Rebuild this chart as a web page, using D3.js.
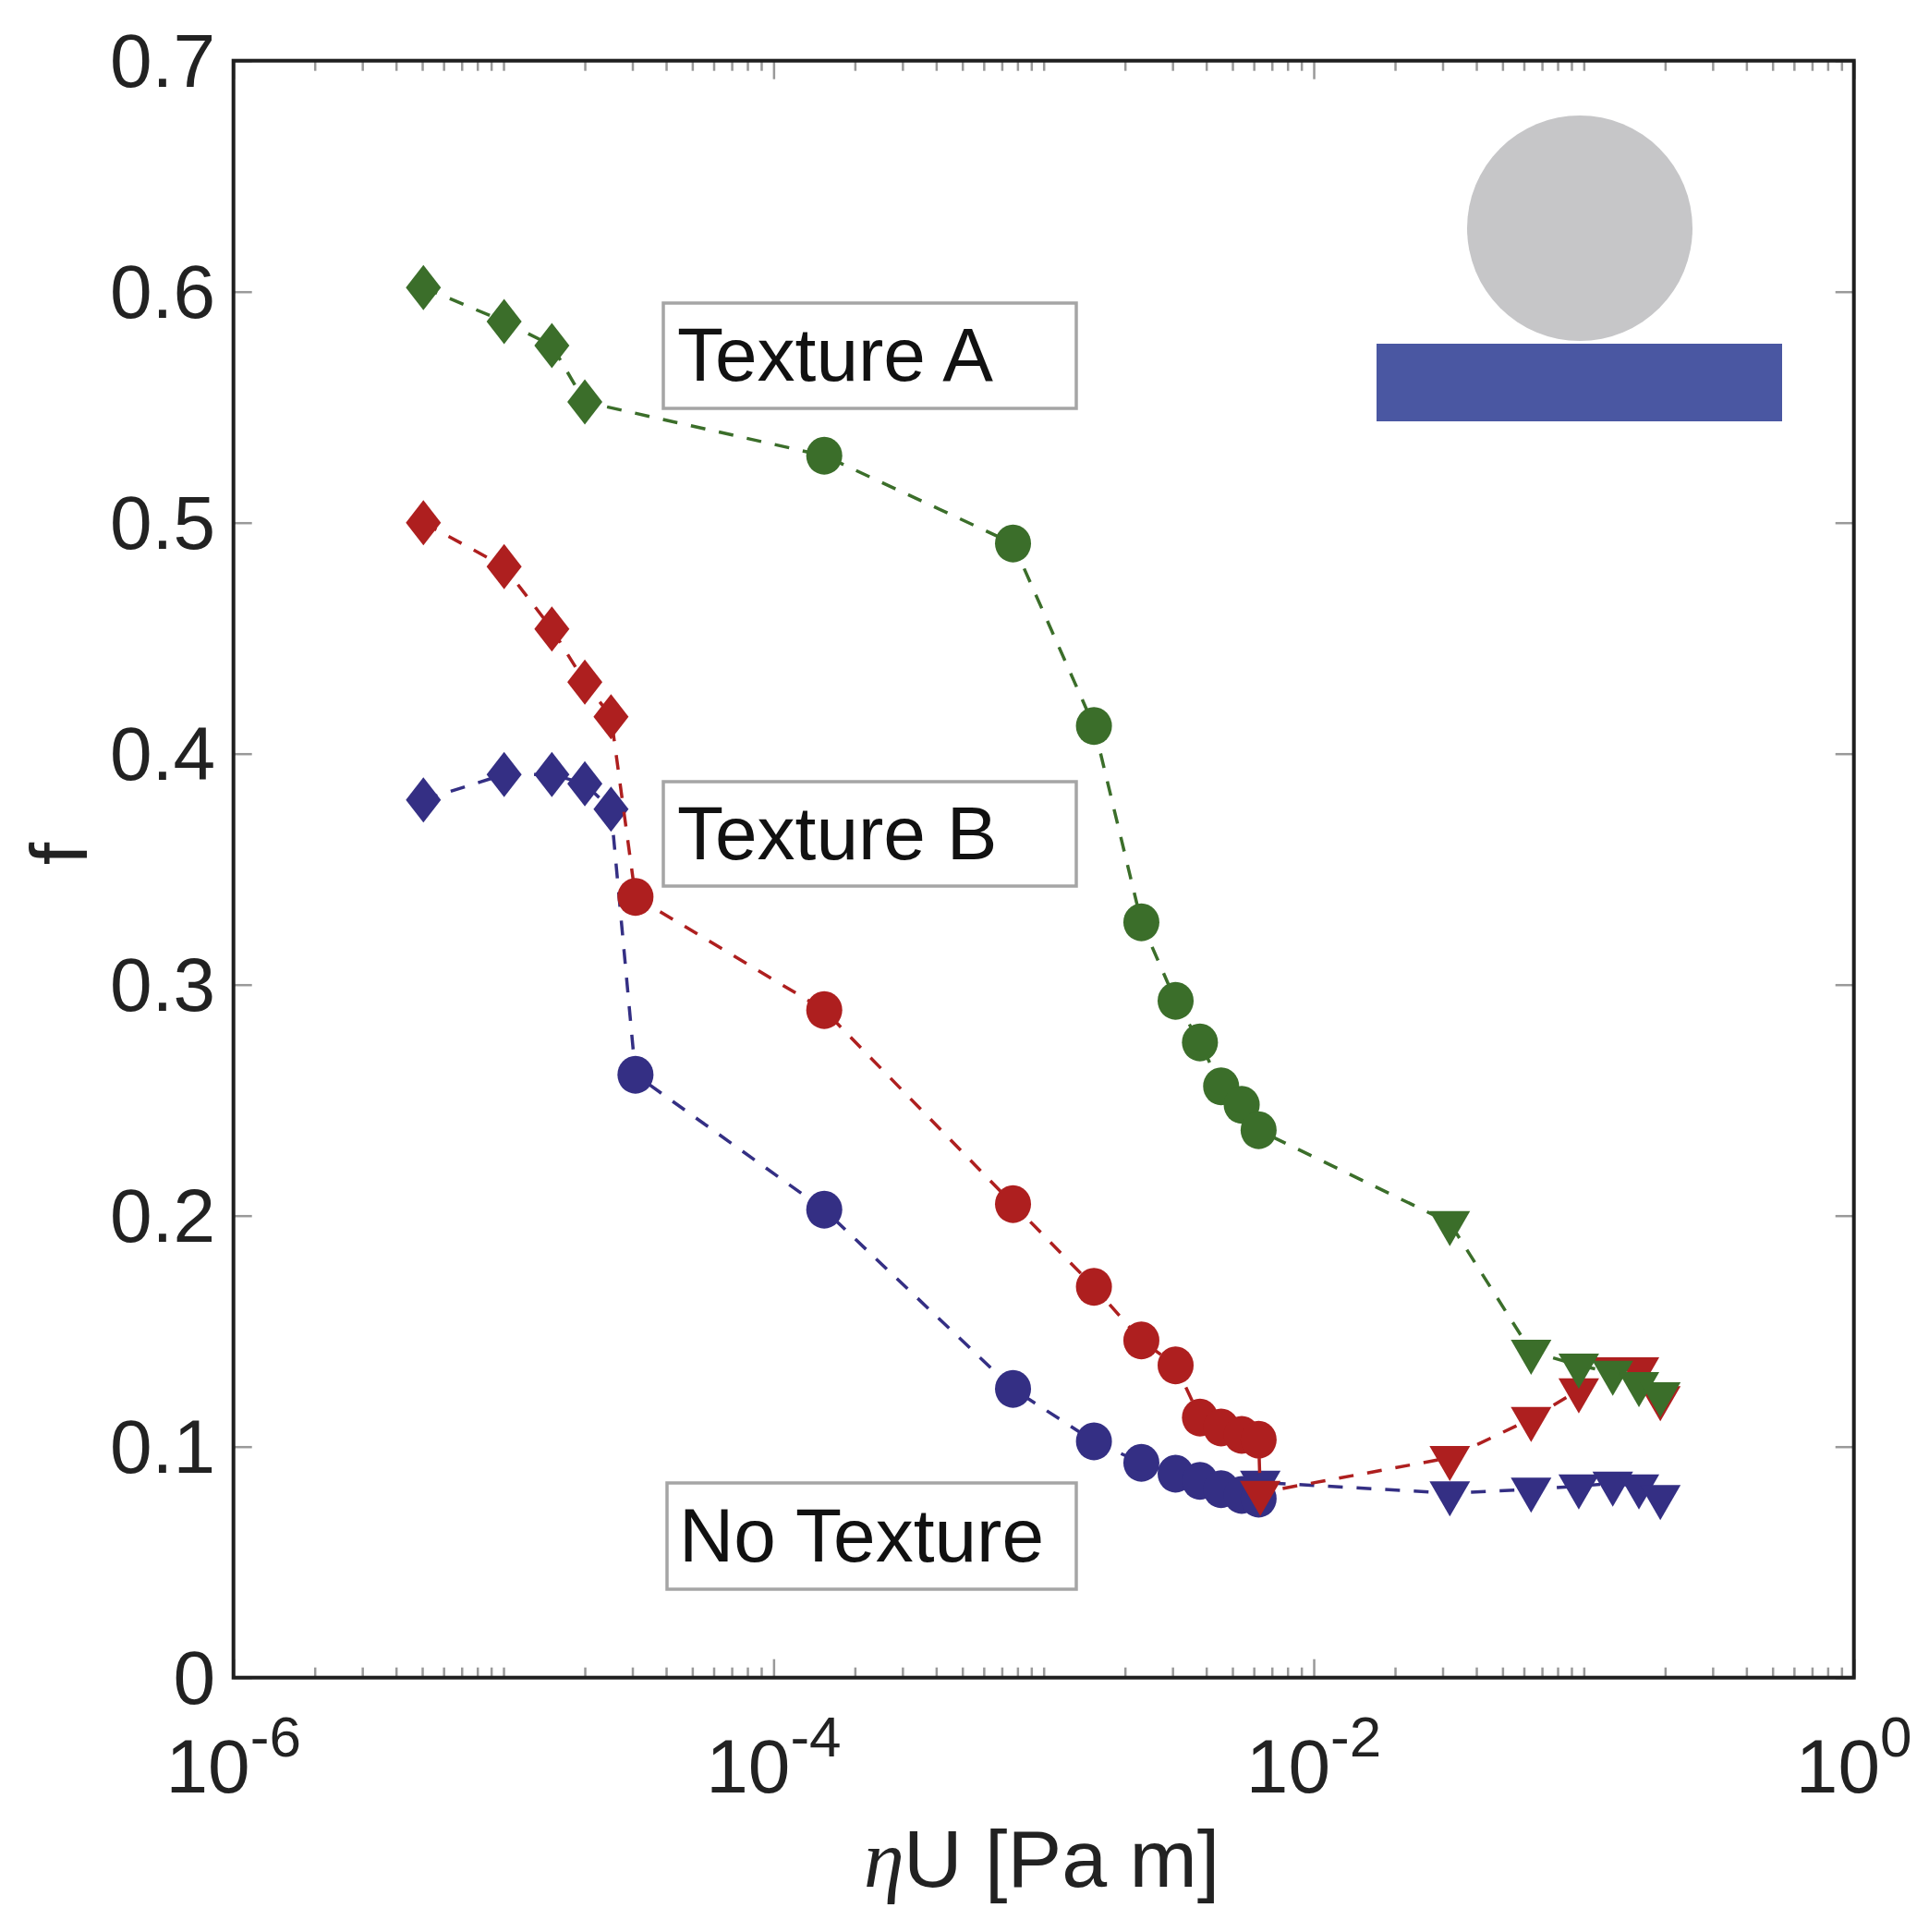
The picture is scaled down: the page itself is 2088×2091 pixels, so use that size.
<!DOCTYPE html>
<html>
<head>
<meta charset="utf-8">
<style>
  body { margin: 0; background: #fff; }
  svg { display: block; filter: blur(0.7px); }
  text { font-family: "Liberation Sans", sans-serif; fill: #222; }
</style>
<script src="https://d3js.org/d3.v7.min.js"></script>
</head>
<body>
<div id="chart"></div>
<script type="text/javascript">
// values
var xDiamond = [5.05e-6, 1.005e-5, 1.51e-5, 2e-5, 2.5e-5];
var xCircle = [3.08e-5, 1.54e-4, 7.7e-4, 1.535e-3, 2.3e-3, 3.08e-3, 3.79e-3, 4.54e-3, 5.41e-3, 6.25e-3];
var xTriangle = [6.34e-3, 3.19e-2, 6.38e-2, 9.58e-2, 0.128, 0.16, 0.192];

var blueDiamond = [0.380, 0.391, 0.391, 0.387, 0.376];
var blueCircle = [0.261, 0.2026, 0.125, 0.1023, 0.093, 0.0883, 0.0852, 0.0816, 0.0791, 0.0775];
var blueTriangle = [0.0845, 0.0799, 0.0815, 0.0829, 0.0841, 0.0829, 0.0783];

var redDiamond = [0.500, 0.481, 0.454, 0.431, 0.416];
var redCircle = [0.338, 0.289, 0.205, 0.1692, 0.146, 0.1352, 0.1126, 0.1083, 0.1051, 0.103];
var redTriangle = [0.0801, 0.0952, 0.1121, 0.1245, 0.1336, 0.1336, 0.1211];

var greenDiamond = [0.6018, 0.5871, 0.5767, 0.5523];
var greenCircle = [null, 0.529, 0.491, 0.412, 0.327, 0.293, 0.275, 0.256, 0.248, 0.237];
var greenTriangle = [null, 0.1969, 0.1412, 0.1352, 0.1321, 0.1272, 0.1228];

var yTickValues = [0, 0.1, 0.2, 0.3, 0.4, 0.5, 0.6, 0.7];
var yTickLabels = ["0", "0.1", "0.2", "0.3", "0.4", "0.5", "0.6", "0.7"];
var xDecades = [1e-6, 1e-4, 1e-2, 1];
var xExponents = ["-6", "-4", "-2", "0"];

var labelNames = ["Texture A", "Texture B", "No Texture"];

var w = 2088, h = 2091;
var left = 252.7, right = 2006.7, top_ = 65.7, bottom = 1815.7;

var x = d3.scaleLog().domain([1e-6, 1]).range([left, right]);
var y = d3.scaleLinear().domain([0, 0.7]).range([bottom, top_]);

var svg = d3.select("#chart").append("svg")
  .attr("width", w)
  .attr("height", h);

// inset sketch: ball on a flat plate
svg.append("circle").attr("cx", 1710).attr("cy", 247).attr("r", 122).attr("fill", "#c6c6c8");
svg.append("rect").attr("x", 1490).attr("y", 372).attr("width", 439).attr("height", 84).attr("fill", "#4a57a2");

// ticks on all four sides
function styleAxis(g) {
  g.select(".domain").remove();
  g.selectAll(".tick line").attr("stroke", "#999").attr("stroke-width", 2.5);
  g.selectAll("text").remove();
}
var minorTicks = x.ticks().filter(function(d) { return xDecades.indexOf(d) < 0; });

svg.append("g").attr("transform", "translate(0," + bottom + ")")
  .call(d3.axisTop(x).tickValues(minorTicks).tickSize(11)).call(styleAxis);
svg.append("g").attr("transform", "translate(0," + top_ + ")")
  .call(d3.axisBottom(x).tickValues(minorTicks).tickSize(11)).call(styleAxis);
svg.append("g").attr("transform", "translate(0," + bottom + ")")
  .call(d3.axisTop(x).tickValues(xDecades).tickSize(20)).call(styleAxis);
svg.append("g").attr("transform", "translate(0," + top_ + ")")
  .call(d3.axisBottom(x).tickValues(xDecades).tickSize(20)).call(styleAxis);
svg.append("g").attr("transform", "translate(" + left + ",0)")
  .call(d3.axisRight(y).tickValues(yTickValues).tickSize(20)).call(styleAxis);
svg.append("g").attr("transform", "translate(" + right + ",0)")
  .call(d3.axisLeft(y).tickValues(yTickValues).tickSize(20)).call(styleAxis);

// tick labels
svg.selectAll(".ylabel").data(yTickValues).enter().append("text")
  .attr("class", "ylabel")
  .attr("x", 233)
  .attr("y", function(d) { return y(d); })
  .attr("dy", "0.35em")
  .attr("text-anchor", "end")
  .attr("font-size", 82)
  .text(function(d, i) { return yTickLabels[i]; });

var xlab = svg.selectAll(".xlabel").data(xDecades).enter().append("text")
  .attr("class", "xlabel")
  .attr("x", function(d) { return x(d); })
  .attr("y", 1940)
  .attr("text-anchor", "middle")
  .attr("font-size", 82);
xlab.append("tspan").text("10");
xlab.append("tspan")
  .attr("dy", -39)
  .attr("font-size", 62)
  .text(function(d, i) { return xExponents[i]; });

// axis titles
var xTitle = svg.append("text")
  .attr("x", 935)
  .attr("y", 2042)
  .attr("font-size", 88);
xTitle.append("tspan")
  .style("font-family", "'Liberation Serif', serif")
  .style("font-style", "italic")
  .text("\u03b7");
xTitle.append("tspan").attr("x", 978).text("U [Pa m]");

svg.append("text")
  .attr("transform", "translate(94,924) rotate(-90)")
  .attr("text-anchor", "middle")
  .attr("font-size", 88)
  .text("f");

// series
var seriesList = [
  { color: "#342f84", d: blueDiamond, c: blueCircle, t: blueTriangle },
  { color: "#ae1f1f", d: redDiamond, c: redCircle, t: redTriangle },
  { color: "#3b6e2a", d: greenDiamond, c: greenCircle, t: greenTriangle }
];

function pairs(xs, ys, shape) {
  var out = [];
  ys.forEach(function(v, i) {
    if (v !== null) out.push({ x: xs[i], y: v, shape: shape });
  });
  return out;
}

var line = d3.line()
  .x(function(d) { return x(d.x); })
  .y(function(d) { return y(d.y); });

var symCircle = d3.symbol().type(d3.symbolCircle).size(1195)();
var symSquare = d3.symbol().type(d3.symbolSquare).size(800)();
var symTriangle = d3.symbol().type(d3.symbolTriangle).size(838)();

seriesList.forEach(function(s) {
  var pts = pairs(xDiamond, s.d, "d").concat(pairs(xCircle, s.c, "c"), pairs(xTriangle, s.t, "t"));
  var g = svg.append("g");

  g.append("path")
    .attr("d", line(pts))
    .attr("fill", "none")
    .attr("stroke", s.color)
    .attr("stroke-width", 3.5)
    .attr("stroke-dasharray", "16,15");

  g.selectAll("path.pt").data(pts).enter().append("path")
    .attr("class", "pt")
    .attr("fill", s.color)
    .attr("d", function(d) {
      return d.shape === "c" ? symCircle : d.shape === "d" ? symSquare : symTriangle;
    })
    .attr("transform", function(d) {
      var t = "translate(" + x(d.x) + "," + y(d.y) + ")";
      if (d.shape === "d") return t + " scale(0.95,1.225) rotate(45)";
      if (d.shape === "t") return t + " rotate(180)";
      return t + " scale(1,1.05)";
    });
});

// labels in grey boxes
var labelBoxes = [
  { name: labelNames[0], x0: 718, y0: 328, x1: 1165, y1: 442, tx: 733, ty: 412 },
  { name: labelNames[1], x0: 718, y0: 846, x1: 1165, y1: 959, tx: 733, ty: 930 },
  { name: labelNames[2], x0: 722, y0: 1605, x1: 1165, y1: 1720, tx: 735, ty: 1690 }
];
labelBoxes.forEach(function(b) {
  svg.append("rect")
    .attr("x", b.x0).attr("y", b.y0)
    .attr("width", b.x1 - b.x0).attr("height", b.y1 - b.y0)
    .attr("fill", "#fff")
    .attr("stroke", "#a5a5a5")
    .attr("stroke-width", 3.5);
  svg.append("text")
    .attr("x", b.tx).attr("y", b.ty)
    .attr("font-size", 82)
    .style("fill", "#111")
    .text(b.name);
});

// frame on top
svg.append("rect")
  .attr("x", left).attr("y", top_)
  .attr("width", right - left).attr("height", bottom - top_)
  .attr("fill", "none")
  .attr("stroke", "#1f1f1f")
  .attr("stroke-width", 4);
</script>
</body>
</html>
